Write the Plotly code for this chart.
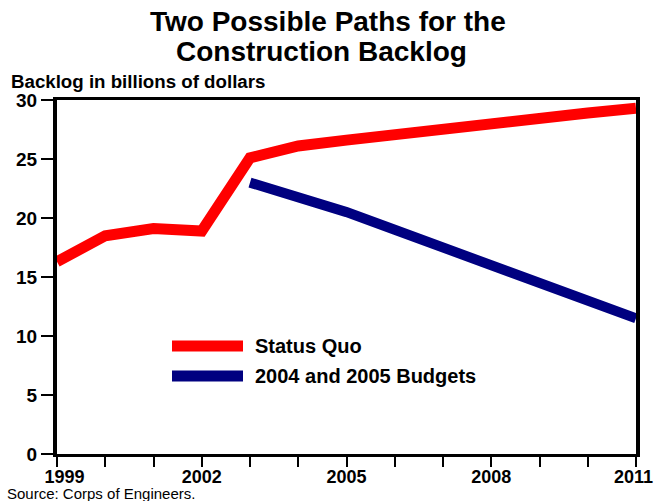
import plotly.graph_objects as go

years_sq = [1999, 2000, 2001, 2002, 2003, 2004, 2005, 2006, 2007, 2008, 2009, 2010, 2011]
status_quo = [16.3, 18.5, 19.1, 18.9, 25.1, 26.1, 26.6, 27.1, 27.5, 28.0, 28.4, 28.9, 29.3]
years_bud = [2003, 2004, 2005, 2006, 2007, 2008, 2009, 2010, 2011]
budgets = [23.0, 21.8, 20.5, 19.0, 17.5, 16.0, 14.5, 13.0, 11.5]
x_tickvals = list(range(1999, 2012))
x_labels = {1999: "&nbsp;&nbsp;&nbsp;<b>1999</b>", 2002: "<b>2002</b>",
            2005: "<b>2005</b>", 2008: "<b>2008</b>", 2011: "<b>2011</b>&nbsp;"}
x_ticktext = [x_labels.get(y, "") for y in x_tickvals]
y_tickvals = [0, 5, 10, 15, 20, 25, 30]
names = ["Status Quo", "2004 and 2005 Budgets"]
colors = ["#ff0000", "#000080"]
title_lines = ["Two Possible Paths for the", "Construction Backlog"]

FONT = "Liberation Sans, Arial, sans-serif"
T, B, L, R, W, H = 100, 47, 57, 19, 655, 501
ph = H - T - B
pw = W - L - R


def py(p):
    return (H - B - p) / ph


def px(p):
    return (p - L) / pw


fig = go.Figure()
fig.add_trace(go.Scatter(x=years_sq, y=status_quo, mode="lines", name=names[0],
                         line=dict(color=colors[0], width=11), showlegend=False))
fig.add_trace(go.Scatter(x=years_bud, y=budgets, mode="lines", name=names[1],
                         line=dict(color=colors[1], width=10), showlegend=False))

# manual legend
leg_py = [346, 376]
for i in range(2):
    fig.add_shape(type="line", xref="paper", yref="paper", x0=px(172), x1=px(243),
                  y0=py(leg_py[i]), y1=py(leg_py[i]),
                  line=dict(color=colors[i], width=11))
    fig.add_annotation(xref="paper", yref="paper", x=px(253), y=py(leg_py[i]),
                       text="<b>%s</b>" % names[i],
                       showarrow=False, xanchor="left", yanchor="middle",
                       font=dict(family=FONT, size=20, color="black"))

# title
title_py = [22, 51]
title_px = [328, 321]
for i in range(2):
    fig.add_annotation(xref="paper", yref="paper", x=px(title_px[i]), y=py(title_py[i]),
                       text="<b>%s</b>" % title_lines[i], showarrow=False,
                       xanchor="center", yanchor="middle",
                       font=dict(family=FONT, size=28, color="black"))

fig.add_annotation(xref="paper", yref="paper", x=px(9), y=py(81),
                   text="<b>Backlog in billions of dollars</b>",
                   showarrow=False, xanchor="left", yanchor="middle",
                   font=dict(family=FONT, size=18.7, color="black"))
fig.add_annotation(xref="paper", yref="paper", x=px(5), y=py(493),
                   text="Source: Corps of Engineers.",
                   showarrow=False, xanchor="left", yanchor="middle",
                   font=dict(family=FONT, size=15, color="black"))

fig.update_layout(
    width=W, height=H,
    margin=dict(l=L, r=R, t=T, b=B, autoexpand=False),
    paper_bgcolor="white", plot_bgcolor="white",
    xaxis=dict(range=[1999, 2011], tickvals=x_tickvals, ticktext=x_ticktext,
               ticks="outside", ticklen=10, tickwidth=2, tickcolor="black",
               showline=True, linewidth=3, linecolor="black", mirror=True,
               showgrid=False, zeroline=False, ticklabeloverflow="allow",
               automargin=False, ticklabelstandoff=-6,
               tickfont=dict(family=FONT, size=18, color="black")),
    yaxis=dict(range=[0, 30], tickvals=y_tickvals,
               ticktext=["<b>%d</b>" % v for v in y_tickvals],
               ticks="outside", ticklen=12, tickwidth=2, tickcolor="black",
               showline=True, linewidth=4, linecolor="black", mirror=True,
               showgrid=False, zeroline=False, automargin=False,
               tickfont=dict(family=FONT, size=19, color="black")),
)

fig.write_html("out.html")
